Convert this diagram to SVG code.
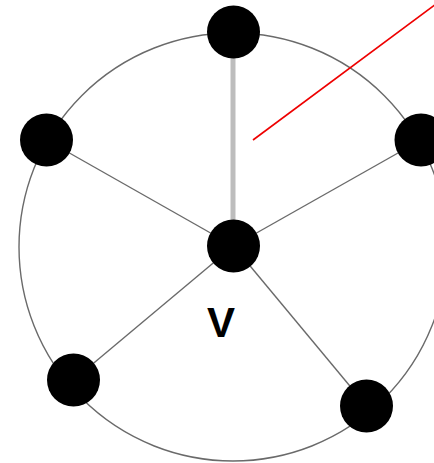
<svg xmlns="http://www.w3.org/2000/svg" width="434" height="463" viewBox="0 0 434 463">
<style>
.edge{stroke:#6a6a6a;stroke-width:1.4;fill:none}
.node{fill:#000}
.lbl{font-family:"Liberation Sans",Arial,sans-serif;font-size:42px;font-weight:bold;fill:#000}
</style>
<rect width="434" height="463" fill="#fff"/>
<g id="connectors">
<circle class="edge" cx="233" cy="247" r="214"/>
<line class="edge" x1="46.5" y1="140" x2="233.5" y2="246"/>
<line class="edge" x1="421" y1="140" x2="233.5" y2="246"/>
<line class="edge" x1="73.5" y1="380" x2="233.5" y2="246"/>
<line class="edge" x1="366.5" y1="406" x2="233.5" y2="246"/>
<line x1="233" y1="32" x2="233" y2="246" stroke="#bdbdbd" stroke-width="5"/>
<line x1="253" y1="140" x2="444" y2="-2" stroke="#ee0000" stroke-width="1.6"/>
</g>
<g id="n-top"><circle class="node" cx="233.5" cy="32" r="26.5"/></g>
<g id="n-left"><circle class="node" cx="46.5" cy="140" r="26.5"/></g>
<g id="n-right"><circle class="node" cx="421" cy="140" r="26.5"/></g>
<g id="n-center"><circle class="node" cx="233.5" cy="246" r="26.5"/></g>
<g id="n-bl"><circle class="node" cx="73.5" cy="380" r="26.5"/></g>
<g id="n-br"><circle class="node" cx="366.5" cy="406" r="26.5"/></g>
<g id="label-v"><text class="lbl" x="221" y="337" text-anchor="middle">V</text></g>
</svg>
